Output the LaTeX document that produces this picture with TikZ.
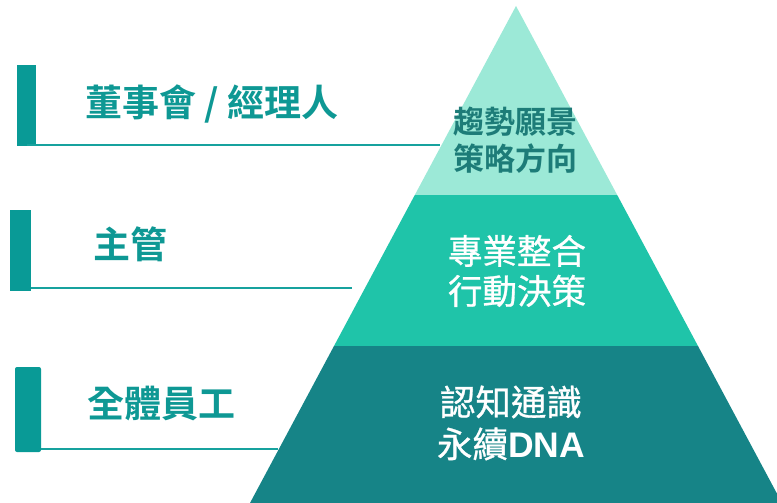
\documentclass[tikz,border=0pt]{standalone}
\usepackage{fontspec}
\newfontfamily\cjk{Noto Sans CJK TC}[BoldFont={Noto Sans CJK TC Bold}]
\newfontfamily\cjkmed{Noto Sans CJK TC}[FakeBold=0.8]
\newfontfamily\lat{Liberation Sans}
\definecolor{topc}{HTML}{9CE9D7}
\definecolor{midc}{HTML}{1FC4A9}
\definecolor{botc}{HTML}{168487}
\definecolor{barc}{HTML}{099A96}
\definecolor{linec}{HTML}{17A29E}
\definecolor{labc}{HTML}{0E9894}
\definecolor{toptxt}{HTML}{1D7C78}
\tikzset{
  bar/.style={fill=barc, draw=none},
  sep/.style={draw=linec, line width=2.2pt},
  lab/.style={text=labc, font=\cjk\bfseries\fontsize{37}{40}\selectfont, inner sep=0pt, anchor=west},
  ptxt/.style={align=center, inner sep=0pt}
}
\begin{document}
\begin{tikzpicture}[x=1pt,y=-1pt]
\useasboundingbox (0,0) rectangle (777,503);
% pyramid bands
\fill[topc] (516,6) -- (617.2,195) -- (414.8,195) -- cycle;
\fill[midc] (414.8,195) -- (617.2,195) -- (698,346) -- (334,346) -- cycle;
\fill[botc] (334,346) -- (698,346) -- (782,503) -- (250,503) -- cycle;
% bars
\fill[bar] (17,65) rectangle (36,146);
\fill[bar] (10,210) rectangle (31,291);
\fill[bar, rounded corners=2pt] (15,367) rectangle (41,452);
% lines
\coordinate (l1a) at (27,145); \coordinate (l1b) at (440,145);
\coordinate (l2a) at (31,288); \coordinate (l2b) at (352,288);
\coordinate (l3a) at (41,449); \coordinate (l3b) at (278,449);
\draw[sep] (l1a) -- (l1b);
\draw[sep] (l2a) -- (l2b);
\draw[sep] (l3a) -- (l3b);
% labels
\node[lab] (t1) at (85,104) {董事會 / 經理人};
\node[lab] (t2) at (93,244) {主管};
\node[lab] (t3) at (87,404) {全體員工};
% pyramid text
\node[ptxt, text=toptxt, font=\cjk\bfseries\fontsize{31}{37}\selectfont] (p1) at (515,140) {趨勢願景\\策略方向};
\node[ptxt, text=white, font=\cjkmed\fontsize{34.5}{40}\selectfont] (p2) at (517,271) {專業整合\\行動決策};
\node[ptxt, text=white, font=\cjkmed\fontsize{35.5}{42}\selectfont] (p3) at (511,423) {認知通識\\永續{\lat\bfseries DNA}};
\end{tikzpicture}
\end{document}
